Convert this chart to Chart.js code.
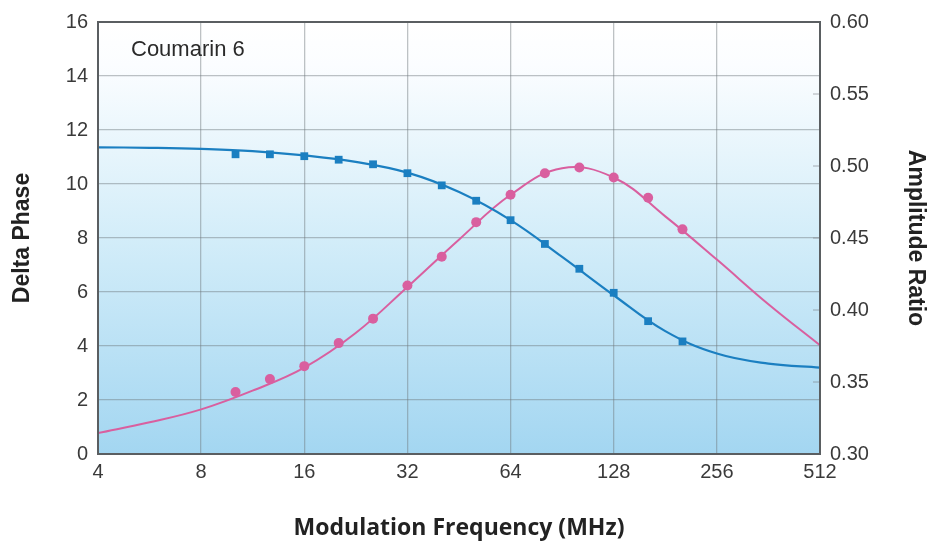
<!DOCTYPE html>
<html>
<head>
<meta charset="utf-8">
<script src="https://cdn.jsdelivr.net/npm/chart.js@4"></script>
<style>
html,body{margin:0;padding:0;background:#fff;}
#wrap{width:933px;height:542px;}
</style>
</head>
<body>
<div id="wrap"><canvas id="c" width="933" height="542"></canvas></div>
<script>
// Measured frequencies (MHz)
const freq = [10.08, 12.7, 16, 20.16, 25.4, 32, 40.3, 50.8, 64, 80.6, 101.6, 128, 161.3, 203.2];
// Delta phase (left axis)
const phase = [11.1, 11.1, 11.03, 10.9, 10.73, 10.4, 9.95, 9.38, 8.66, 7.78, 6.86, 5.97, 4.92, 4.17];
// Amplitude ratio (right axis)
const amp = [0.343, 0.352, 0.361, 0.377, 0.394, 0.417, 0.437, 0.461, 0.480, 0.495, 0.499, 0.492, 0.478, 0.456];
// Fitted curves
const fitFreq = [4, 5.66, 8, 11.3, 16, 22.6, 32, 45.3, 64, 90.5, 128, 181, 256, 362, 512];
const fitPhase = [11.36, 11.34, 11.30, 11.22, 11.06, 10.82, 10.42, 9.7, 8.66, 7.3, 5.88, 4.55, 3.72, 3.35, 3.2];
const fitAmp = [0.3145, 0.322, 0.331, 0.344, 0.360, 0.384, 0.416, 0.449, 0.480, 0.4985, 0.492, 0.465, 0.435, 0.404, 0.3755];
// Tick labels
const xTicks = [4, 8, 16, 32, 64, 128, 256, 512];
const leftTicks = [0, 2, 4, 6, 8, 10, 12, 14, 16];
const rightTicks = [0.30, 0.35, 0.40, 0.45, 0.50, 0.55, 0.60];

const BLUE = '#1b7fc1';
const PINK = '#d95f9f';
const TICK_FONT = {size: 20, family: '"Liberation Sans", Arial, sans-serif'};
const TITLE_FONT = {size: 23, weight: 'bold', family: '"Liberation Sans", Arial, sans-serif'};

const pts = (xs, ys) => xs.map((x, i) => ({x: x, y: ys[i]}));

const bgPlugin = {
  id: 'bg',
  beforeDraw(chart) {
    const {ctx, chartArea: a} = chart;
    const g = ctx.createLinearGradient(0, a.top, 0, a.bottom);
    g.addColorStop(0, '#ffffff');
    g.addColorStop(0.1, '#fbfdff');
    g.addColorStop(0.5, '#d3edf9');
    g.addColorStop(1, '#a3d6f1');
    ctx.save();
    ctx.fillStyle = g;
    ctx.fillRect(a.left, a.top, a.right - a.left, a.bottom - a.top);
    ctx.restore();
  },
  afterDatasetsDraw(chart) {
    const {ctx, chartArea: a, scales} = chart;
    ctx.save();
    // small tick marks of the right axis, inside the frame
    ctx.strokeStyle = 'rgba(120,125,130,0.6)';
    ctx.lineWidth = 1;
    rightTicks.forEach(v => {
      const y = scales.y2.getPixelForValue(v);
      ctx.beginPath(); ctx.moveTo(a.right - 7, y); ctx.lineTo(a.right, y); ctx.stroke();
    });
    ctx.strokeStyle = '#5a5e61';
    ctx.lineWidth = 2;
    ctx.strokeRect(a.left, a.top, a.right - a.left, a.bottom - a.top);
    ctx.fillStyle = '#2a2a2a';
    ctx.font = '22px "Liberation Sans", Arial, sans-serif';
    ctx.textBaseline = 'middle';
    ctx.fillText('Coumarin 6', a.left + 33, a.top + 28);
    ctx.restore();
  }
};

new Chart(document.getElementById('c'), {
  type: 'line',
  data: {
    datasets: [
      {label: 'Phase fit', data: pts(fitFreq, fitPhase), yAxisID: 'y', borderColor: BLUE, borderWidth: 2.2, pointRadius: 0, tension: 0.4, fill: false},
      {label: 'Amplitude fit', data: pts(fitFreq, fitAmp), yAxisID: 'y2', borderColor: PINK, borderWidth: 2, pointRadius: 0, tension: 0.4, fill: false},
      {label: 'Delta Phase', data: pts(freq, phase), yAxisID: 'y', showLine: false, pointStyle: 'rect', pointRadius: 5.5, backgroundColor: BLUE, borderColor: BLUE, borderWidth: 0},
      {label: 'Amplitude Ratio', data: pts(freq, amp), yAxisID: 'y2', showLine: false, pointStyle: 'circle', pointRadius: 5, backgroundColor: PINK, borderColor: PINK, borderWidth: 0}
    ]
  },
  plugins: [bgPlugin],
  options: {
    responsive: false,
    animation: false,
    devicePixelRatio: 1,
    layout: {padding: {top: 20, left: 0, right: 0, bottom: 0}},
    plugins: {legend: {display: false}, tooltip: {enabled: false}},
    scales: {
      x: {
        type: 'logarithmic', min: 4, max: 512,
        afterBuildTicks: s => { s.ticks = xTicks.map(v => ({value: v})); },
        afterFit: s => { s.height = 88; },
        ticks: {color: '#3a3a3a', font: TICK_FONT, padding: 6, maxRotation: 0, autoSkip: false, callback: v => String(v)},
        grid: {color: 'rgba(110,120,125,0.45)', lineWidth: 1.3, drawTicks: false},
        border: {display: false},
        title: {display: true, text: 'Modulation Frequency (MHz)', color: '#222', font: {size: 23, weight: 'bold', family: '"Open Sans", "Noto Sans", sans-serif'}, padding: {top: 0, bottom: 0}}
      },
      y: {
        position: 'left', min: 0, max: 16,
        afterBuildTicks: s => { s.ticks = leftTicks.map(v => ({value: v})); },
        afterFit: s => { s.width = 98; },
        ticks: {color: '#3a3a3a', font: TICK_FONT, padding: 10},
        grid: {color: 'rgba(110,120,125,0.45)', lineWidth: 1.3, drawTicks: false},
        border: {display: false},
        title: {display: true, text: 'Delta Phase', color: '#222', font: TITLE_FONT, padding: {top: 9, bottom: 0}}
      },
      y2: {
        position: 'right', min: 0.30, max: 0.60,
        afterBuildTicks: s => { s.ticks = rightTicks.map(v => ({value: v})); },
        afterFit: s => { s.width = 113; },
        ticks: {color: '#3a3a3a', font: TICK_FONT, padding: 10, callback: v => Number(v).toFixed(2)},
        grid: {drawOnChartArea: false, drawTicks: false},
        border: {display: false},
        title: {display: true, text: 'Amplitude Ratio', color: '#222', font: TITLE_FONT, padding: {top: 4, bottom: 0}}
      }
    }
  }
});
</script>
</body>
</html>
